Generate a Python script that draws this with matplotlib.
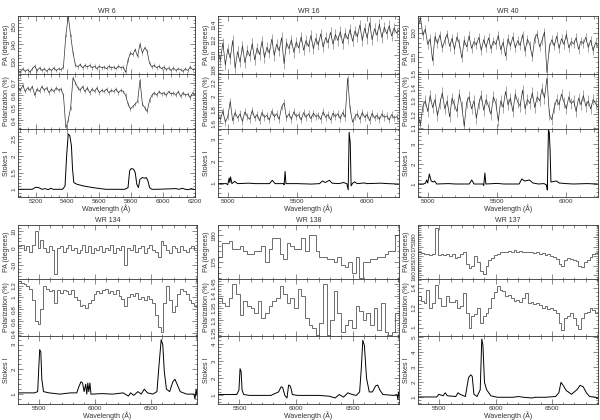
import matplotlib
matplotlib.use('Agg')
import matplotlib.pyplot as plt
import numpy as np
from matplotlib.ticker import AutoMinorLocator, FixedLocator

plt.rcParams['font.family'] = ['Liberation Sans', 'DejaVu Sans']

# ---------------- WR 6 ----------------
wr6_pa = [125, 124, 126, 124.5, 125.5, 124, 126, 127.5, 125, 126.5, 125, 126, 124.5, 126, 125,
          126.5, 125, 126, 125.5, 127, 145, 156, 145, 135, 128, 127, 128.5, 126.5, 128, 127,
          128, 126.5, 127.5, 126, 127.5, 126.5, 127, 126, 127.5, 126.5, 127, 126, 127.5, 126.5,
          127, 124, 131, 135, 134, 137, 133, 140, 135, 138, 136, 129, 127, 128, 126.5, 127.5,
          126, 127, 125.5, 126.5, 125, 126.5, 125, 126, 125.5, 124.5, 126, 125, 127, 125.5, 126]
wr6_pol = [0.66, 0.64, 0.68, 0.63, 0.66, 0.64, 0.67, 0.60, 0.65, 0.63, 0.67, 0.64, 0.66, 0.62,
           0.65, 0.63, 0.66, 0.64, 0.65, 0.60, 0.34, 0.40, 0.50, 0.74, 0.70, 0.66, 0.64, 0.67,
           0.63, 0.66, 0.62, 0.65, 0.63, 0.66, 0.62, 0.64, 0.63, 0.65, 0.62, 0.64, 0.63, 0.65,
           0.62, 0.64, 0.63, 0.60, 0.53, 0.49, 0.51, 0.53, 0.55, 0.72, 0.53, 0.50, 0.47, 0.56,
           0.60, 0.62, 0.60, 0.63, 0.61, 0.62, 0.60, 0.63, 0.61, 0.62, 0.60, 0.63, 0.59, 0.62,
           0.60, 0.61, 0.58, 0.62, 0.60]
wr6_iw = [5090, 5180, 5200, 5220, 5240, 5260, 5280, 5295, 5310, 5370, 5385, 5395, 5405, 5415,
          5425, 5432, 5440, 5460, 5500, 5560, 5640, 5700, 5760, 5780, 5790, 5800, 5815, 5825,
          5835, 5845, 5855, 5870, 5885, 5895, 5905, 5915, 5930, 5960, 6080, 6100, 6120, 6140,
          6160, 6175, 6200]
wr6_i = [1.0, 1.0, 1.06, 1.05, 1.0, 1.02, 0.99, 1.03, 1.0, 1.0, 1.1, 2.0, 2.65, 2.6,
         2.3, 1.6, 1.2, 1.15, 1.1, 1.05, 1.0, 1.0, 1.0, 1.05, 1.55, 1.62, 1.6, 1.5,
         1.15, 1.05, 1.3, 1.35, 1.33, 1.35, 1.25, 1.05, 1.0, 1.0, 1.02, 1.0, 1.03, 1.0,
         0.99, 1.02, 0.99]

# ---------------- WR 16 ----------------
wr16_pa = [110.5, 109.2, 111.6, 108.6, 110.8, 109.5, 111.9, 108.2, 110.4, 109.0, 111.2, 108.9,
           110.6, 109.8, 111.5, 109.3, 110.9, 110.0, 111.8, 109.6, 111.0, 110.2, 112.1, 109.9,
           111.4, 110.5, 112.3, 108.8, 111.6, 110.8, 112.0, 110.3, 111.7, 110.9, 112.4, 110.6,
           111.9, 111.1, 112.6, 110.8, 112.2, 111.3, 112.8, 111.0, 112.3, 111.6, 113.0, 111.4,
           112.7, 111.9, 113.1, 111.5, 112.9, 112.1, 113.4, 111.8, 113.2, 112.4, 114.0, 111.9,
           113.6, 112.2, 114.3, 112.0, 113.5, 112.6, 114.1, 112.3, 113.7, 112.8, 113.9, 112.5,
           113.6, 112.9, 113.3]
wr16_pol = [1.72, 1.66, 1.78, 1.62, 1.70, 1.92, 1.64, 1.76, 1.68, 1.74, 1.63, 1.77, 1.70, 1.66,
            1.79, 1.68, 1.73, 1.64, 1.76, 1.69, 1.72, 1.65, 1.78, 1.70, 1.74, 1.66, 1.84, 1.90,
            1.68, 1.74, 1.66, 1.77, 1.70, 1.73, 1.65, 1.76, 1.69, 1.74, 1.67, 1.75, 1.70, 1.72,
            1.66, 1.77, 1.69, 1.73, 1.65, 1.75, 1.70, 1.74, 1.67, 1.76, 1.69, 2.26, 1.82, 1.62,
            1.70, 1.74, 1.66, 1.76, 1.69, 1.73, 1.64, 1.75, 1.68, 1.72, 1.66, 1.74, 1.69, 1.71,
            1.65, 1.73, 1.68, 1.70, 1.66]
wr16_iw = [4930, 4990, 5000, 5010, 5015, 5020, 5030, 5050, 5070, 5150, 5200, 5300, 5320, 5340,
           5400, 5405, 5412, 5418, 5500, 5600, 5660, 5680, 5700, 5730, 5750, 5800, 5830, 5855,
           5865, 5872, 5880, 5886, 5895, 5910, 5930, 5980, 6000, 6100, 6150, 6230]
wr16_i = [1.0, 1.0, 0.95, 1.25, 1.05, 1.3, 1.0, 1.1, 1.0, 1.02, 1.0, 1.0, 1.15, 1.0,
          1.0, 0.95, 1.55, 1.0, 1.0, 0.98, 1.0, 1.12, 1.05, 1.15, 1.02, 1.0, 1.05, 1.0,
          0.72, 3.3, 2.8, 0.9, 1.0, 1.08, 1.0, 1.03, 1.0, 1.02, 1.0, 0.98]

# ---------------- WR 40 ----------------
wr40_pa = [121.0, 123.2, 119.5, 120.8, 117.6, 118.8, 114.2, 119.3, 117.8, 119.6, 116.9, 118.4,
           119.8, 117.2, 118.9, 116.6, 119.2, 117.8, 114.8, 118.5, 117.1, 119.4, 116.8, 118.2,
           117.5, 119.1, 116.4, 118.6, 117.0, 119.0, 116.7, 118.3, 117.6, 119.5, 116.5, 118.1,
           115.2, 118.8, 117.3, 119.2, 116.9, 118.4, 117.4, 119.6, 116.2, 118.7, 117.5, 115.0,
           118.9, 119.8, 117.1, 118.5, 120.2, 111.8, 117.0, 118.6, 117.3, 119.3, 116.8, 118.8,
           117.6, 119.7, 116.9, 118.2, 117.7, 119.0, 116.6, 118.3, 117.8, 119.1, 117.0, 118.5,
           116.3, 118.0, 117.2]
wr40_pol = [1.20, 1.12, 1.26, 1.30, 1.22, 1.34, 1.25, 1.31, 1.19, 1.28, 1.36, 1.24, 1.30, 1.18,
            1.32, 1.27, 1.22, 1.35, 1.26, 1.11, 1.29, 1.33, 1.24, 1.30, 1.17, 1.28, 1.34, 1.23,
            1.31, 1.26, 1.20, 1.33, 1.28, 1.15, 1.30, 1.25, 1.37, 1.27, 1.32, 1.22, 1.35, 1.29,
            1.26, 1.38, 1.24, 1.31, 1.28, 1.36, 1.25, 1.33, 1.30, 1.39, 1.32, 1.47, 1.20, 1.16,
            1.25, 1.31, 1.27, 1.35, 1.29, 1.24, 1.33, 1.28, 1.30, 1.22, 1.32, 1.27, 1.34, 1.26,
            1.30, 1.24, 1.31, 1.28, 1.25]
wr40_iw = [4930, 4970, 4985, 4992, 5000, 5012, 5025, 5040, 5050, 5065, 5150, 5200, 5300, 5318,
           5335, 5400, 5405, 5413, 5420, 5500, 5550, 5660, 5680, 5700, 5735, 5760, 5800, 5840,
           5858, 5864, 5872, 5878, 5884, 5890, 5930, 5950, 6000, 6050, 6150, 6230]
wr40_i = [1.0, 1.0, 1.05, 1.2, 1.05, 1.5, 1.15, 1.1, 1.15, 1.0, 1.02, 1.0, 1.0, 1.2,
          1.0, 1.0, 0.93, 1.55, 1.0, 1.03, 1.0, 1.0, 1.25, 1.15, 1.2, 1.05, 1.0, 1.02,
          0.95, 0.7, 3.7, 3.6, 2.7, 1.1, 1.15, 1.05, 1.02, 1.0, 1.02, 1.0]

# ---------------- WR 134 ----------------
wr134_pa = [1, 2, -1, 1, -2, 2, 10, 0, 5, 0, -2, 1, -1, -15, 0, 1, -2, 0, 2, -1, 0, -3, -1, 2,
            -2, 1, -3, 0, -1, 1, -2, 0, -1, 2, -3, 0, -1, 1, -10, 0, -1, 2, -2, 0, 1, -3, 0, 2,
            -1, -2, -5, 4, 2, -1, -3, 1, 0, -2, 1, -1, -2, 0, 1, -1]
wr134_pol = [1.27, 1.25, 1.22, 1.20, 1.15, 0.95, 0.60, 0.55, 0.80, 1.20, 1.15, 1.10, 1.12, 0.90,
             1.12, 1.08, 1.12, 1.10, 1.05, 1.12, 1.00, 0.95, 0.85, 0.88, 0.82, 0.90, 0.95, 1.05,
             1.10, 1.08, 1.12, 1.15, 1.08, 1.10, 1.05, 1.12, 1.02, 0.98, 0.85, 1.00, 1.05, 1.02,
             1.08, 0.98, 1.00, 0.95, 1.02, 0.98, 0.90, 0.70, 0.50, 0.42, 0.90, 1.20, 0.95, 0.75,
             0.85, 1.05, 1.15, 1.10, 1.05, 0.95, 0.90, 0.85]
wr134_iw = [5310, 5410, 5457, 5486, 5495, 5504, 5514, 5523, 5538, 5589, 5684, 5778, 5835, 5854,
            5873, 5887, 5901, 5915, 5925, 5934, 5943, 5953, 5962, 5976, 6061, 6156, 6250, 6297,
            6316, 6345, 6382, 6411, 6439, 6467, 6515, 6552, 6571, 6590, 6604, 6618, 6637, 6666,
            6694, 6713, 6732, 6760, 6817, 6883, 6892, 6902, 6910]
wr134_i = [1.05, 1.05, 1.05, 1.1, 2.0, 2.8, 2.7, 1.6, 1.1, 1.05, 1.0, 1.05, 1.05, 1.3,
           1.5, 1.45, 1.1, 1.4, 1.0, 1.45, 1.1, 1.45, 1.0, 1.0, 1.02, 1.0, 1.05, 0.92,
           1.05, 0.95, 1.1, 1.0, 1.2, 1.05, 1.0, 1.1, 2.2, 3.2, 3.0, 1.9, 1.2, 1.1,
           1.5, 1.6, 1.4, 1.1, 1.0, 1.0, 0.8, 1.2, 0.95]

# ---------------- WR 138 ----------------
wr138_pa = [176.0, 178.5, 178.5, 179.0, 177.5, 177.5, 178.0, 177.0, 176.5, 176.5, 177.0, 177.0,
            178.0, 175.0, 177.5, 179.5, 179.5, 176.5, 175.5, 178.5, 178.0, 177.5, 177.5, 179.5,
            177.0, 180.0, 180.0, 177.0, 176.0, 176.0, 175.5, 175.5, 175.0, 176.0, 174.5, 174.0,
            175.0, 173.0, 176.0, 172.0, 175.0, 175.0, 175.5, 175.5, 176.0, 176.0, 176.5, 177.0,
            177.0, 180.0]
wr138_pol = [1.39, 1.37, 1.36, 1.39, 1.45, 1.41, 1.32, 1.38, 1.36, 1.35, 1.33, 1.38, 1.31, 1.33,
             1.36, 1.38, 1.39, 1.44, 1.41, 1.37, 1.39, 1.35, 1.43, 1.40, 1.31, 1.28, 1.27, 1.24,
             1.29, 1.45, 1.24, 1.30, 1.42, 1.33, 1.25, 1.28, 1.30, 1.27, 1.36, 1.34, 1.30, 1.33,
             1.28, 1.35, 1.26, 1.37, 1.25, 1.24, 1.25, 1.33]
wr138_iw = [5310, 5410, 5476, 5495, 5505, 5514, 5523, 5538, 5589, 5684, 5778, 5845, 5868, 5882,
            5901, 5920, 5934, 5948, 5958, 5967, 6014, 6109, 6203, 6297, 6345, 6382, 6420, 6458,
            6496, 6533, 6562, 6576, 6590, 6604, 6623, 6647, 6675, 6703, 6722, 6741, 6769, 6864,
            6892, 6901, 6906, 6910]
wr138_i = [1.05, 1.05, 1.05, 1.3, 2.55, 2.4, 1.3, 1.05, 1.0, 1.0, 1.0, 1.2, 1.5, 1.45,
           1.0, 0.85, 1.6, 1.55, 1.35, 1.05, 1.0, 1.0, 1.0, 0.95, 0.85, 1.05, 0.9, 1.15,
           1.05, 1.0, 1.2, 2.5, 4.2, 3.9, 2.0, 1.2, 1.2, 1.55, 1.6, 1.3, 1.05, 1.0,
           1.05, 0.75, 1.2, 1.0]

# ---------------- WR 137 ----------------
wr137_pa = [172, 171.5, 171, 171, 170.5, 171, 185, 170.5, 171, 170.5, 171, 170, 171, 169,
            169.5, 171, 172, 166, 164, 165, 170, 167, 162, 160.5, 165, 168, 169, 170.5, 171,
            172, 172.5, 172, 173, 172.5, 173.5, 172, 173, 172.5, 172, 172.5, 172, 171.5, 172,
            171, 171.5, 170.5, 171, 170, 169.5, 168.5, 166, 165, 168, 169, 168.5, 168, 167.5,
            165, 164.5, 167, 168, 169.5, 171, 171.5]
wr137_pol = [1.32, 1.27, 1.25, 1.38, 1.20, 1.25, 1.43, 1.30, 1.22, 1.22, 1.32, 1.26, 1.26, 1.28,
             1.20, 1.22, 1.35, 1.15, 1.00, 1.12, 1.14, 1.20, 1.05, 1.12, 1.15, 1.20, 1.30, 1.36,
             1.42, 1.38, 1.37, 1.32, 1.33, 1.30, 1.27, 1.28, 1.26, 1.30, 1.35, 1.25, 1.26, 1.24,
             1.25, 1.23, 1.20, 1.22, 1.19, 1.20, 1.18, 1.15, 1.05, 0.98, 1.10, 1.12, 1.15, 1.10,
             1.03, 0.99, 1.10, 1.15, 1.16, 1.20, 1.18, 1.15]
wr137_iw = [5310, 5410, 5476, 5495, 5514, 5533, 5552, 5571, 5646, 5665, 5684, 5731, 5759, 5778,
            5792, 5807, 5835, 5863, 5877, 5887, 5901, 5920, 5939, 5958, 6014, 6156, 6203, 6250,
            6326, 6345, 6439, 6533, 6562, 6581, 6600, 6628, 6675, 6722, 6751, 6779, 6807, 6835,
            6892, 6901, 6910]
wr137_i = [1.02, 1.02, 1.02, 1.2, 1.15, 1.1, 1.3, 1.1, 1.05, 1.3, 1.2, 1.05, 2.3, 2.5,
           2.4, 1.2, 1.05, 1.5, 4.9, 4.5, 2.0, 1.5, 1.3, 1.1, 1.0, 1.0, 1.05, 1.0,
           0.95, 1.0, 1.0, 1.05, 1.3, 2.0, 1.8, 1.45, 1.2, 1.5, 1.8, 1.7, 1.3, 1.05,
           1.0, 0.9, 1.0]

panels = [
    dict(title='WR 6', cols=(18, 195), rows=(16, 74, 129, 197), xlim=(5090, 6200),
         xticks=[5200, 5400, 5600, 5800, 6000, 6200], steps=False,
         pa=wr6_pa, pol=wr6_pol, iw=wr6_iw, i=wr6_i, err=(1.0, 0.015),
         pa_lim=(123, 156), pa_t=[130, 140, 150],
         pol_lim=(0.33, 0.77), pol_t=[0.4, 0.5, 0.6, 0.7],
         i_lim=(0.77, 2.8), i_t=[1, 1.5, 2, 2.5]),
    dict(title='WR 16', cols=(218, 399), rows=(16, 74, 129, 197), xlim=(4930, 6230),
         xticks=[5000, 5500, 6000], steps=False,
         pa=wr16_pa, pol=wr16_pol, iw=wr16_iw, i=wr16_i, err=(0.7, 0.05),
         pa_lim=(107.4, 115.2), pa_t=[108, 110, 112, 114],
         pol_lim=(1.52, 2.32), pol_t=[1.6, 1.8, 2, 2.2],
         i_lim=(0.4, 3.45), i_t=[1, 2, 3]),
    dict(title='WR 40', cols=(418, 598), rows=(16, 74, 129, 197), xlim=(4930, 6230),
         xticks=[5000, 5500, 6000], steps=False,
         pa=wr40_pa, pol=wr40_pol, iw=wr40_iw, i=wr40_i, err=(0.9, 0.04),
         pa_lim=(111.5, 123.5), pa_t=[115, 120],
         pol_lim=(1.09, 1.5), pol_t=[1.1, 1.2, 1.3, 1.4, 1.5],
         i_lim=(0.35, 3.75), i_t=[1, 2, 3]),
    dict(title='WR 134', cols=(18, 197), rows=(225, 279, 336, 404), xlim=(5310, 6910),
         xticks=[5500, 6000, 6500], steps=True,
         pa=wr134_pa, pol=wr134_pol, iw=wr134_iw, i=wr134_i, err=None,
         pa_lim=(-18, 13.5), pa_t=[-10, 0, 10],
         pol_lim=(0.35, 1.31), pol_t=[0.4, 0.6, 0.8, 1, 1.2],
         i_lim=(0.6, 3.35), i_t=[1, 2, 3]),
    dict(title='WR 138', cols=(218, 399), rows=(225, 279, 336, 404), xlim=(5310, 6910),
         xticks=[5500, 6000, 6500], steps=True,
         pa=wr138_pa, pol=wr138_pol, iw=wr138_iw, i=wr138_i, err=None,
         pa_lim=(171.8, 181.9), pa_t=[175, 180],
         pol_lim=(1.235, 1.47), pol_t=[1.25, 1.3, 1.35, 1.4, 1.45],
         i_lim=(0.5, 4.45), i_t=[1, 2, 3, 4]),
    dict(title='WR 137', cols=(418, 598), rows=(225, 279, 336, 404), xlim=(5310, 6910),
         xticks=[5500, 6000, 6500], steps=True,
         pa=wr137_pa, pol=wr137_pol, iw=wr137_iw, i=wr137_i, err=None,
         pa_lim=(158, 186.5), pa_t=[160, 165, 170, 175, 180],
         pol_lim=(0.915, 1.49), pol_t=[1, 1.2, 1.4],
         i_lim=(0.55, 5.1), i_t=[1, 2, 3, 4, 5]),
]

W, H = 600, 420
fig = plt.figure(figsize=(6, 4.2), dpi=100)
ink = '#333333'
gray = '#555555'


def px_axes(left, top, right, bottom):
    return fig.add_axes([left / W, 1 - bottom / H, (right - left) / W, (bottom - top) / H])


def style(ax, yt, xt, show_x):
    ax.set_yticks(yt)
    ax.set_yticklabels([('%g' % v) for v in yt], rotation=90, va='center')
    ax.xaxis.set_major_locator(FixedLocator(xt))
    ax.xaxis.set_minor_locator(AutoMinorLocator(5 if xt[1] - xt[0] > 200 else 4))
    ax.yaxis.set_minor_locator(AutoMinorLocator(5))
    ax.tick_params(which='both', direction='in', top=True, right=True, labelsize=4.6,
                   width=0.4, pad=1.2, colors=ink)
    ax.tick_params(which='major', length=3.5)
    ax.tick_params(which='minor', length=1.8)
    if not show_x:
        ax.tick_params(labelbottom=False)
    for s in ax.spines.values():
        s.set_linewidth(0.6)
        s.set_color(ink)


for p in panels:
    l, r = p['cols']
    t, b1, b2, b = p['rows']
    n_pa, n_pol = len(p['pa']), len(p['pol'])
    x0, x1 = p['xlim']
    ax1 = px_axes(l, t, r, b1)
    ax2 = px_axes(l, b1, r, b2)
    ax3 = px_axes(l, b2, r, b)
    if p['steps']:
        ax1.stairs(p['pa'], np.linspace(x0, x1, n_pa + 1), color=gray, lw=0.6)
        ax2.stairs(p['pol'], np.linspace(x0, x1, n_pol + 1), color=gray, lw=0.6)
    else:
        xa = np.linspace(x0, x1, n_pa)
        xb = np.linspace(x0, x1, n_pol)
        ea, eb = p['err']
        ya, yb = np.array(p['pa']), np.array(p['pol'])
        ax1.vlines(xa, ya - ea, ya + ea, color='#999999', lw=0.6)
        ax2.vlines(xb, yb - eb, yb + eb, color='#999999', lw=0.6)
        ax1.plot(xa, ya, color=ink, lw=0.5)
        ax2.plot(xb, yb, color=ink, lw=0.5)
    ax3.plot(p['iw'], p['i'], color='black', lw=0.7)

    ax1.set_ylim(*p['pa_lim'])
    ax2.set_ylim(*p['pol_lim'])
    ax3.set_ylim(*p['i_lim'])
    for ax in (ax1, ax2, ax3):
        ax.set_xlim(x0, x1)
    style(ax1, p['pa_t'], p['xticks'], False)
    style(ax2, p['pol_t'], p['xticks'], False)
    style(ax3, p['i_t'], p['xticks'], True)

    lab = dict(fontsize=5, color=ink, labelpad=1)
    ax1.set_ylabel('PA (degrees)', **lab)
    ax2.set_ylabel('Polarization (%)', **lab)
    ax3.set_ylabel('Stokes I', **lab)
    ax3.set_xlabel('Wavelength (\u00c5)', fontsize=5, color=ink, labelpad=0.5)
    ax1.set_title(p['title'], fontsize=5, color=ink, pad=2.5)

fig.savefig('out.png', dpi=100, facecolor='white')
